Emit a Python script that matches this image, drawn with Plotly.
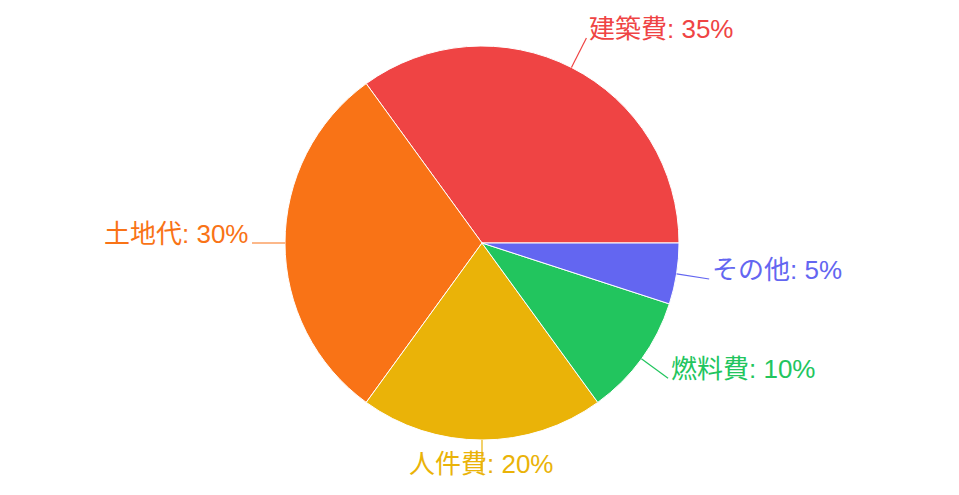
import math
import plotly.graph_objects as go

# data
labels = ["建築費", "土地代", "人件費", "燃料費", "その他"]
values = [35, 30, 20, 10, 5]
colors = ["#ef4444", "#f97316", "#eab308", "#22c55e", "#6366f1"]

W, H = 943, 479             # page has 8px body margin
cx, cy, r = 474, 235, 197   # pie centre / radius in pixels (figure coords)
ext = 33                    # leader line length

fig = go.Figure(go.Pie(
    labels=labels, values=values, sort=False,
    direction="counterclockwise", rotation=-36,
    marker=dict(colors=colors, line=dict(color="white", width=1)),
    textinfo="none", hoverinfo="label+percent",
    domain=dict(x=[(cx - r) / W, (cx + r) / W], y=[1 - (cy + r) / H, 1 - (cy - r) / H]),
))

total = sum(values)
start = 0.0
shapes, annots = [], []
for lab, v, c in zip(labels, values, colors):
    mid = (start + v / total / 2) * 2 * math.pi
    start += v / total
    dx, dy = math.cos(mid), -math.sin(mid)
    x0, y0 = cx + r * dx, cy + r * dy
    x1, y1 = cx + (r + ext) * dx, cy + (r + ext) * dy
    shapes.append(dict(type="line", xref="paper", yref="paper",
                       x0=x0 / W, y0=1 - y0 / H, x1=x1 / W, y1=1 - y1 / H,
                       line=dict(color=c, width=1.2)))
    if abs(dx) < 0.1:
        anchor, tx = "center", x1
    elif dx > 0:
        anchor, tx = "left", x1 + 1
    else:
        anchor, tx = "right", x1 - 1
    annots.append(dict(xref="paper", yref="paper", x=tx / W, y=1 - (y1 - 9) / H,
                       xanchor=anchor, yanchor="middle", showarrow=False,
                       text=f"{lab}: {round(v / total * 100)}%",
                       font=dict(color=c, size=26)))

fig.update_layout(
    width=W, height=H, showlegend=False,
    margin=dict(l=0, r=0, t=0, b=0),
    paper_bgcolor="white",
    font=dict(family="Liberation Sans, Noto Sans CJK JP, sans-serif"),
    shapes=shapes, annotations=annots,
)
fig.write_html("out.html")
